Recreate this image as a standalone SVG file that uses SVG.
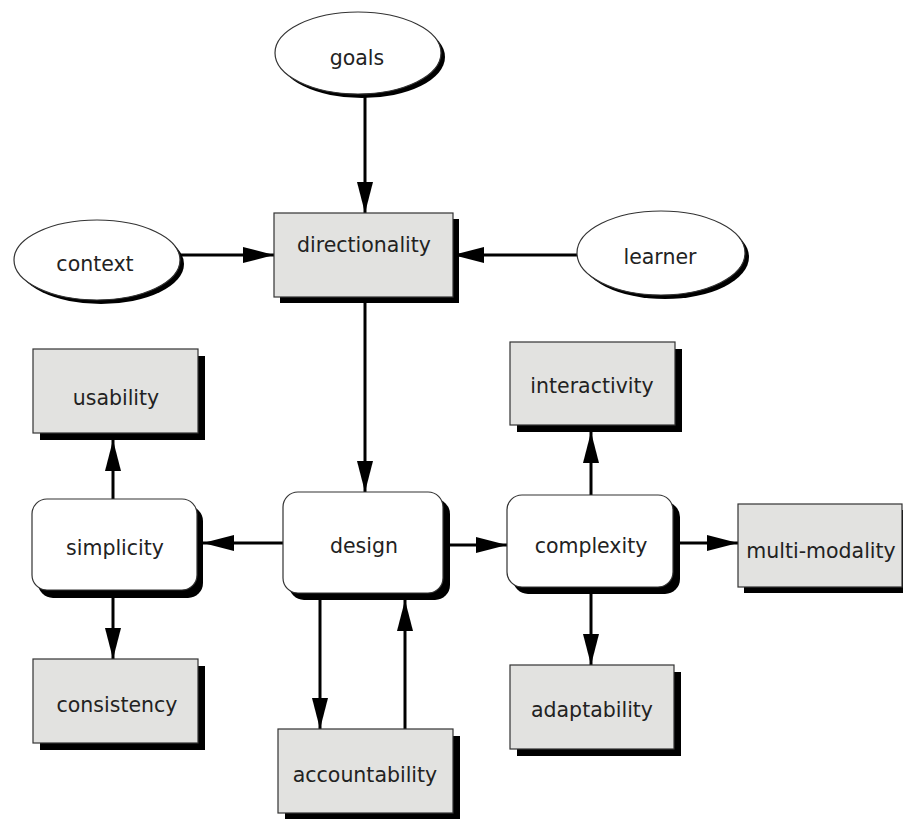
<svg xmlns="http://www.w3.org/2000/svg" width="903" height="819" viewBox="0 0 903 819">
<defs>
<style>
.sh{fill:#000}
.box{fill:#e2e2e0;stroke:#333;stroke-width:1.2}
.rnd{fill:#fff;stroke:#333;stroke-width:1.2}
.ell{fill:#fff;stroke:#333;stroke-width:1.2}
.t{font-family:"DejaVu Sans",Verdana,sans-serif;font-size:20.5px;fill:#222;text-anchor:middle}
.c{stroke:#000;stroke-width:3;fill:none;marker-end:url(#ah)}
</style>
<marker id="ah" markerUnits="userSpaceOnUse" markerWidth="32" markerHeight="18" refX="31" refY="9" orient="auto" viewBox="0 0 32 18">
<path d="M0,1 L31,9 L0,17 z" fill="#000"/>
</marker>
</defs>
<rect width="903" height="819" fill="#fff"/>
<g id="connectors">
<line class="c" x1="365" y1="95" x2="365" y2="213"/>
<line class="c" x1="180" y1="255" x2="274" y2="255"/>
<line class="c" x1="577" y1="255" x2="453" y2="255"/>
<line class="c" x1="365" y1="303" x2="365" y2="492"/>
<line class="c" x1="283" y1="543" x2="203" y2="543"/>
<line class="c" x1="113" y1="499" x2="113" y2="440"/>
<line class="c" x1="113" y1="598" x2="113" y2="659"/>
<line class="c" x1="450" y1="545" x2="507" y2="545"/>
<line class="c" x1="680" y1="543" x2="738" y2="543"/>
<line class="c" x1="591" y1="495" x2="591" y2="432"/>
<line class="c" x1="591" y1="594" x2="591" y2="665"/>
<line class="c" x1="320" y1="600" x2="320" y2="729"/>
<line class="c" x1="405" y1="729" x2="405" y2="600"/>
</g>
<g id="goals">
<ellipse class="sh" cx="362" cy="57" rx="83" ry="41"/>
<ellipse class="ell" cx="358" cy="53" rx="83" ry="41"/>
<text class="t" x="357" y="65">goals</text>
</g>
<g id="context">
<ellipse class="sh" cx="101" cy="264" rx="83" ry="40"/>
<ellipse class="ell" cx="97" cy="260" rx="83" ry="40"/>
<text class="t" x="95" y="271">context</text>
</g>
<g id="learner">
<ellipse class="sh" cx="665" cy="257" rx="84" ry="42"/>
<ellipse class="ell" cx="661" cy="253" rx="84" ry="42"/>
<text class="t" x="660" y="264">learner</text>
</g>
<g id="directionality">
<rect class="sh" x="280" y="219" width="179" height="84"/>
<rect class="box" x="274" y="213" width="179" height="84"/>
<text class="t" x="364" y="252">directionality</text>
</g>
<g id="usability">
<rect class="sh" x="40" y="356" width="165" height="84"/>
<rect class="box" x="33" y="349" width="165" height="84"/>
<text class="t" x="116" y="405">usability</text>
</g>
<g id="interactivity">
<rect class="sh" x="517" y="349" width="165" height="83"/>
<rect class="box" x="510" y="342" width="165" height="83"/>
<text class="t" x="592" y="393">interactivity</text>
</g>
<g id="simplicity">
<rect class="sh" x="38" y="506" width="165" height="92" rx="15"/>
<rect class="rnd" x="32" y="499" width="165" height="91" rx="15"/>
<text class="t" x="115" y="555">simplicity</text>
</g>
<g id="design">
<rect class="sh" x="289" y="499" width="161" height="101" rx="15"/>
<rect class="rnd" x="283" y="492" width="160" height="101" rx="15"/>
<text class="t" x="364" y="553">design</text>
</g>
<g id="complexity">
<rect class="sh" x="513" y="502" width="167" height="92" rx="15"/>
<rect class="rnd" x="507" y="495" width="166" height="92" rx="15"/>
<text class="t" x="591" y="553">complexity</text>
</g>
<g id="multi-modality">
<rect class="sh" x="744" y="510" width="165" height="83"/>
<rect class="box" x="738" y="504" width="164" height="83"/>
<text class="t" x="821" y="558">multi-modality</text>
</g>
<g id="consistency">
<rect class="sh" x="40" y="666" width="165" height="84"/>
<rect class="box" x="33" y="659" width="165" height="84"/>
<text class="t" x="117" y="712">consistency</text>
</g>
<g id="adaptability">
<rect class="sh" x="517" y="672" width="164" height="84"/>
<rect class="box" x="510" y="665" width="164" height="84"/>
<text class="t" x="592" y="717">adaptability</text>
</g>
<g id="accountability">
<rect class="sh" x="285" y="736" width="175" height="84"/>
<rect class="box" x="278" y="729" width="175" height="84"/>
<text class="t" x="365" y="782">accountability</text>
</g>
</svg>
